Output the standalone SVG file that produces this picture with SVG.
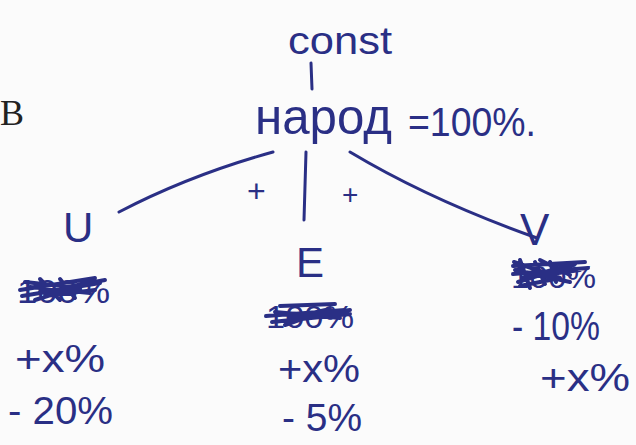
<svg xmlns="http://www.w3.org/2000/svg" width="636" height="445" viewBox="0 0 636 445">
<style>
.h{font-family:"Liberation Sans","DejaVu Sans",sans-serif;fill:#2a2f85;}
.ln{fill:none;stroke:#2a2f85;stroke-width:3;stroke-linecap:round;}
.sc{fill:none;stroke:#2a2f85;stroke-width:4;stroke-linecap:round;stroke-linejoin:round;}
</style>
<rect width="636" height="445" fill="#fbfbfb"/>
<text x="0" y="125" font-family="Liberation Serif,serif" font-size="36" fill="#222">В</text>
<g id="const"><text class="h" x="288" y="54" font-size="38" textLength="104" lengthAdjust="spacingAndGlyphs">const</text></g>
<g id="root">
<text class="h" x="255" y="134" font-size="50" textLength="137" lengthAdjust="spacingAndGlyphs">народ</text>
<text class="h" x="408" y="136" font-size="40" textLength="128" lengthAdjust="spacingAndGlyphs">=100%.</text>
</g>
<g id="connectors">
<path class="ln" d="M311 63 L312 89"/>
<path class="ln" d="M273 152 Q190 175 119 212"/>
<path class="ln" d="M306 152 L304 220"/>
<path class="ln" d="M350 152 Q430 200 537 238"/>
<text class="h" x="247" y="202" font-size="32">+</text>
<text class="h" x="342" y="204" font-size="28">+</text>
</g>
<g id="U">
<text class="h" x="63" y="242" font-size="42">U</text>
<text class="h" x="17" y="303" font-size="34" textLength="93" lengthAdjust="spacingAndGlyphs">100%</text>
<path class="sc" d="M20 290 L95 278 M22 296 L100 283 M35 300 L85 284 L40 292 L105 280 M30 287 L90 293 M25 282 L80 288 L45 296 L95 290 M40 279 L60 300 M60 279 L75 298"/>
<text class="h" x="15" y="372" font-size="38" textLength="90" lengthAdjust="spacingAndGlyphs">+x%</text>
<text class="h" x="8" y="424" font-size="38" textLength="105" lengthAdjust="spacingAndGlyphs">- 20%</text>
</g>
<g id="E">
<text class="h" x="296" y="277" font-size="42">E</text>
<text class="h" x="266" y="328" font-size="32" textLength="88" lengthAdjust="spacingAndGlyphs">100%</text>
<path class="sc" d="M266 316 L345 310 M272 322 L350 314 M285 325 L330 309 L290 318 L350 310 M275 312 L340 318 M280 306 L335 304"/>
<text class="h" x="278" y="382" font-size="38" textLength="82" lengthAdjust="spacingAndGlyphs">+x%</text>
<text class="h" x="282" y="431" font-size="38" textLength="80" lengthAdjust="spacingAndGlyphs">- 5%</text>
</g>
<g id="V">
<text class="h" x="520" y="245" font-size="44">V</text>
<text class="h" x="511" y="288" font-size="32" textLength="85" lengthAdjust="spacingAndGlyphs">100%</text>
<path class="sc" d="M513 266 L585 262 M513 274 L588 268 M518 282 L575 264 L522 278 L580 270 M515 270 L570 282 M520 260 L530 288 M535 262 L545 284 M550 262 L556 282 M514 262 L560 278 L520 286 M540 260 L570 275"/>
<text class="h" x="512" y="340" font-size="40" textLength="88" lengthAdjust="spacingAndGlyphs">- 10%</text>
<text class="h" x="540" y="391" font-size="38" textLength="90" lengthAdjust="spacingAndGlyphs">+x%</text>
</g>
</svg>
